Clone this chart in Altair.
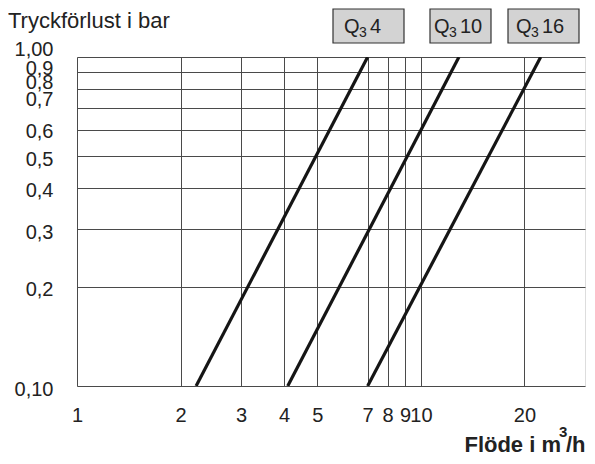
import altair as alt
import pandas as pd

# ---- data ----
pressure = [0.10, 1.00]
flow_q4 = [2.22, 7.0]
flow_q10 = [4.1, 12.9]
flow_q16 = [7.0, 22.3]
series_names = ["Q3 4", "Q3 10", "Q3 16"]

x_ticks = [1, 2, 3, 4, 5, 7, 8, 9, 10, 20]
y_ticks = [0.1, 0.2, 0.3, 0.4, 0.5, 0.6, 0.7, 0.8, 0.9, 1.0]

title_text = "Tryckförlust i bar"
xlabel_main = "Flöde i m"
xlabel_sup = "3"
xlabel_end = "/h"

box_q = ["Q", "Q", "Q"]
box_sub = ["3", "3", "3"]
box_num = ["4", "10", "16"]

rows = []
for name, flows in zip(series_names, [flow_q4, flow_q10, flow_q16]):
    for f, p in zip(flows, pressure):
        rows.append({"series": name, "flow": f, "p": p})
df = pd.DataFrame(rows)

FONT = "Liberation Sans"
W, H = 508, 329

xscale = alt.Scale(type="log", domain=[1, 30], nice=False)
yscale = alt.Scale(type="log", domain=[0.1, 1.0], nice=False)

y_label_expr = ("datum.value == 1 ? '1,00' : (abs(datum.value - 0.1) < 1e-9 ? '0,10' : "
                "replace(format(datum.value, '.1f'), '.', ','))")
y_offset_expr = ("datum.value > 0.95 ? -8 : (datum.value > 0.85 ? -4 : (datum.value > 0.75 ? -6 : "
                 "(datum.value > 0.65 ? -8 : (datum.value > 0.55 ? 2 : 3))))")

lines = alt.Chart(df).mark_line(color="#151515", strokeWidth=3.2, clip=True).encode(
    x=alt.X("flow:Q", scale=xscale,
            axis=alt.Axis(values=x_ticks, title=None, grid=True, gridColor="#4a4a4a",
                          gridWidth=1, gridOpacity=1, ticks=False, domain=False,
                          labelFont=FONT, labelFontSize=20, labelColor="#222",
                          labelPadding=19, labelFlush=False, labelOverlap=False,
                          format="d")),
    y=alt.Y("p:Q", scale=yscale,
            axis=alt.Axis(values=y_ticks, title=None, grid=True, gridColor="#4a4a4a",
                          gridWidth=1, gridOpacity=1, ticks=False, domain=False,
                          labelFont=FONT, labelFontSize=20, labelColor="#222",
                          labelPadding=24, labelOverlap=False, labelFlush=False,
                          labelExpr=y_label_expr,
                          labelOffset=alt.ExprRef(y_offset_expr))),
    detail="series:N",
)

layers = [lines]

def txt(text, x, y, size=20, align="left", weight="normal", baseline="alphabetic"):
    return alt.Chart(pd.DataFrame({"t": [text]})).mark_text(
        font=FONT, fontSize=size, align=align, baseline=baseline, fontWeight=weight,
        color="#222").encode(text="t:N", x=alt.value(x), y=alt.value(y))

# title
layers.append(txt(title_text, -69, -29, size=22))

# axis title with superscript
layers.append(txt(xlabel_main, 484, 395, size=22, align="right", weight="bold"))
layers.append(txt(xlabel_sup, 482, 380, size=15, weight="bold"))
layers.append(txt(xlabel_end, 489, 395, size=22, weight="bold"))

# legend boxes
box_x = [(256, 327), (353, 414), (431, 502)]
q_x = [267, 357, 439]
for (x0, x1), qx, q, sb, num in zip(box_x, q_x, box_q, box_sub, box_num):
    layers.append(alt.Chart(pd.DataFrame({"a": [0]})).mark_rect(
        fill="#d3d3d3", stroke="#333", strokeWidth=1.2).encode(
        x=alt.value(x0), x2=alt.value(x1), y=alt.value(-48), y2=alt.value(-14)))
    layers.append(txt(q, qx, -24, size=20))
    layers.append(txt(sb, qx + 15, -20, size=14))
    layers.append(txt(num, qx + 26, -24, size=20))

chart = alt.layer(*layers).properties(
    width=W, height=H,
    autosize=alt.AutoSizeParams(type="none"),
    padding={"left": 69, "top": 49, "right": 2, "bottom": 70},
).configure_view(stroke="#1a1a1a", strokeWidth=1.5).configure(background="white")

chart.save("out.html", embed_options={"renderer": "svg", "actions": False})
